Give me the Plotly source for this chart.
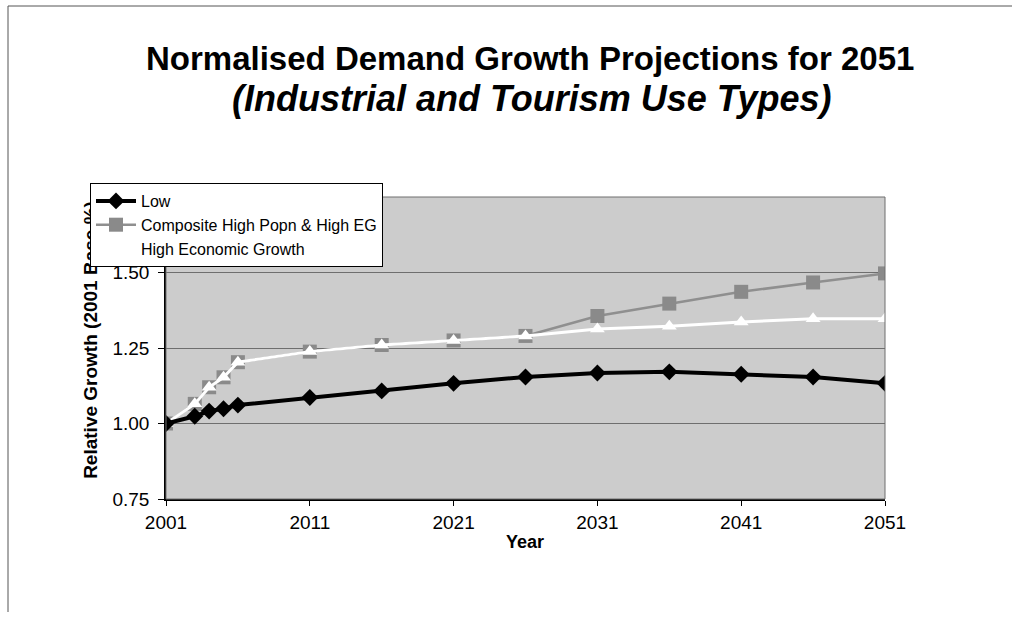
import plotly.graph_objects as go

years = [2001, 2003, 2004, 2005, 2006, 2011, 2016, 2021, 2026, 2031, 2036, 2041, 2046, 2051]
low = [1.00, 1.024, 1.041, 1.049, 1.061, 1.086, 1.108, 1.133, 1.154, 1.167, 1.171, 1.163, 1.154, 1.133]
high_eg = [1.00, 1.065, 1.12, 1.153, 1.203, 1.238, 1.26, 1.275, 1.29, 1.313, 1.322, 1.336, 1.347, 1.347]
composite = [1.00, 1.065, 1.12, 1.153, 1.203, 1.238, 1.26, 1.275, 1.29, 1.356, 1.397, 1.436, 1.467, 1.497]

x_ticks = [2001, 2011, 2021, 2031, 2041, 2051]
y_ticks = [0.75, 1.00, 1.25, 1.50]
y_labels = ["0.75", "1.00", "1.25", "1.50"]

FONT = "Liberation Sans, Arial, sans-serif"

fig = go.Figure()
fig.add_trace(go.Scatter(
    x=years, y=composite, name="Composite High Popn & High EG", mode="lines+markers",
    line=dict(color="#8f8f8f", width=2.5),
    marker=dict(symbol="square", size=14, color="#8a8a8a", line=dict(width=0)),
    legendrank=2,
))
fig.add_trace(go.Scatter(
    x=years, y=high_eg, name="High Economic Growth", mode="lines+markers",
    line=dict(color="#ffffff", width=3),
    marker=dict(symbol="triangle-up", size=13, color="#ffffff", line=dict(width=0)),
    legendrank=3,
))
fig.add_trace(go.Scatter(
    x=years, y=low, name="Low", mode="lines+markers",
    line=dict(color="#000000", width=4),
    marker=dict(symbol="diamond", size=13, color="#000000", line=dict(width=0)),
    legendrank=1,
))

L, R, T, B = 166, 132, 197, 119
W, H = 1017, 618
pw, ph = W - L - R, H - T - B


def px(xp):
    return (xp - L) / pw


def py(yp):
    return (H - B - yp) / ph


fig.update_layout(
    width=W, height=H,
    margin=dict(l=L, r=R, t=T, b=B),
    paper_bgcolor="#ffffff",
    plot_bgcolor="#cccccc",
    font=dict(family=FONT, color="#000000", size=18),
    showlegend=True,
    legend=dict(
        x=px(90), y=py(183), xanchor="left", yanchor="top",
        bgcolor="#ffffff", bordercolor="#000000", borderwidth=1,
        font=dict(size=16, family=FONT), itemwidth=40,
        traceorder="normal",
    ),
    xaxis=dict(
        range=[2001, 2051], tickvals=x_ticks, ticktext=[str(v) for v in x_ticks],
        ticks="outside", ticklen=5, tickcolor="#000000",
        showline=True, linecolor="#000000", linewidth=1.5,
        showgrid=False, zeroline=False,
        tickfont=dict(size=19, family=FONT),
    ),
    yaxis=dict(
        range=[0.75, 1.75], tickvals=y_ticks, ticktext=y_labels,
        ticks="outside", ticklen=6, tickcolor="#000000",
        showline=True, linecolor="#000000", linewidth=1.5,
        showgrid=True, gridcolor="#6e6e6e", gridwidth=1,
        zeroline=False, ticklabelstandoff=5,
        tickfont=dict(size=19, family=FONT),
    ),
    shapes=[
        # plot area border (top/right)
        dict(type="rect", xref="paper", yref="paper", x0=0, x1=1, y0=0, y1=1,
             line=dict(color="#6e6e6e", width=1), fillcolor="rgba(0,0,0,0)", layer="above"),
        # outer chart border (top and left edges visible in the scan)
        dict(type="line", xref="paper", yref="paper", x0=px(8), x1=px(1012), y0=py(6), y1=py(6),
             line=dict(color="#555555", width=1), layer="below"),
        dict(type="line", xref="paper", yref="paper", x0=px(8), x1=px(8), y0=py(6), y1=py(612),
             line=dict(color="#555555", width=1), layer="below"),
        # y-axis title drawn as shape label so the legend covers it
        dict(type="rect", xref="paper", yref="paper", x0=px(76), x1=px(100), y0=py(500), y1=py(180),
             line=dict(width=0), fillcolor="rgba(0,0,0,0)", layer="above",
             label=dict(text="<b>Relative Growth (2001 Base %)</b>", textangle=-90,
                        textposition="middle center",
                        font=dict(size=19, family=FONT, color="#000000"))),
    ],
    annotations=[
        dict(text="<b>Normalised Demand Growth Projections for 2051</b>",
             xref="paper", yref="paper", x=px(530), y=py(58), xanchor="center", yanchor="middle",
             showarrow=False, font=dict(size=33, family=FONT, color="#000000")),
        dict(text="<b><i>(Industrial and Tourism Use Types)</i></b>",
             xref="paper", yref="paper", x=px(531), y=py(98), xanchor="center", yanchor="middle",
             showarrow=False, font=dict(size=36, family=FONT, color="#000000")),
        dict(text="<b>Year</b>", xref="paper", yref="paper", x=px(525), y=py(542),
             xanchor="center", yanchor="middle", showarrow=False,
             font=dict(size=18, family=FONT, color="#000000")),
    ],
)

fig.write_html("out.html")
